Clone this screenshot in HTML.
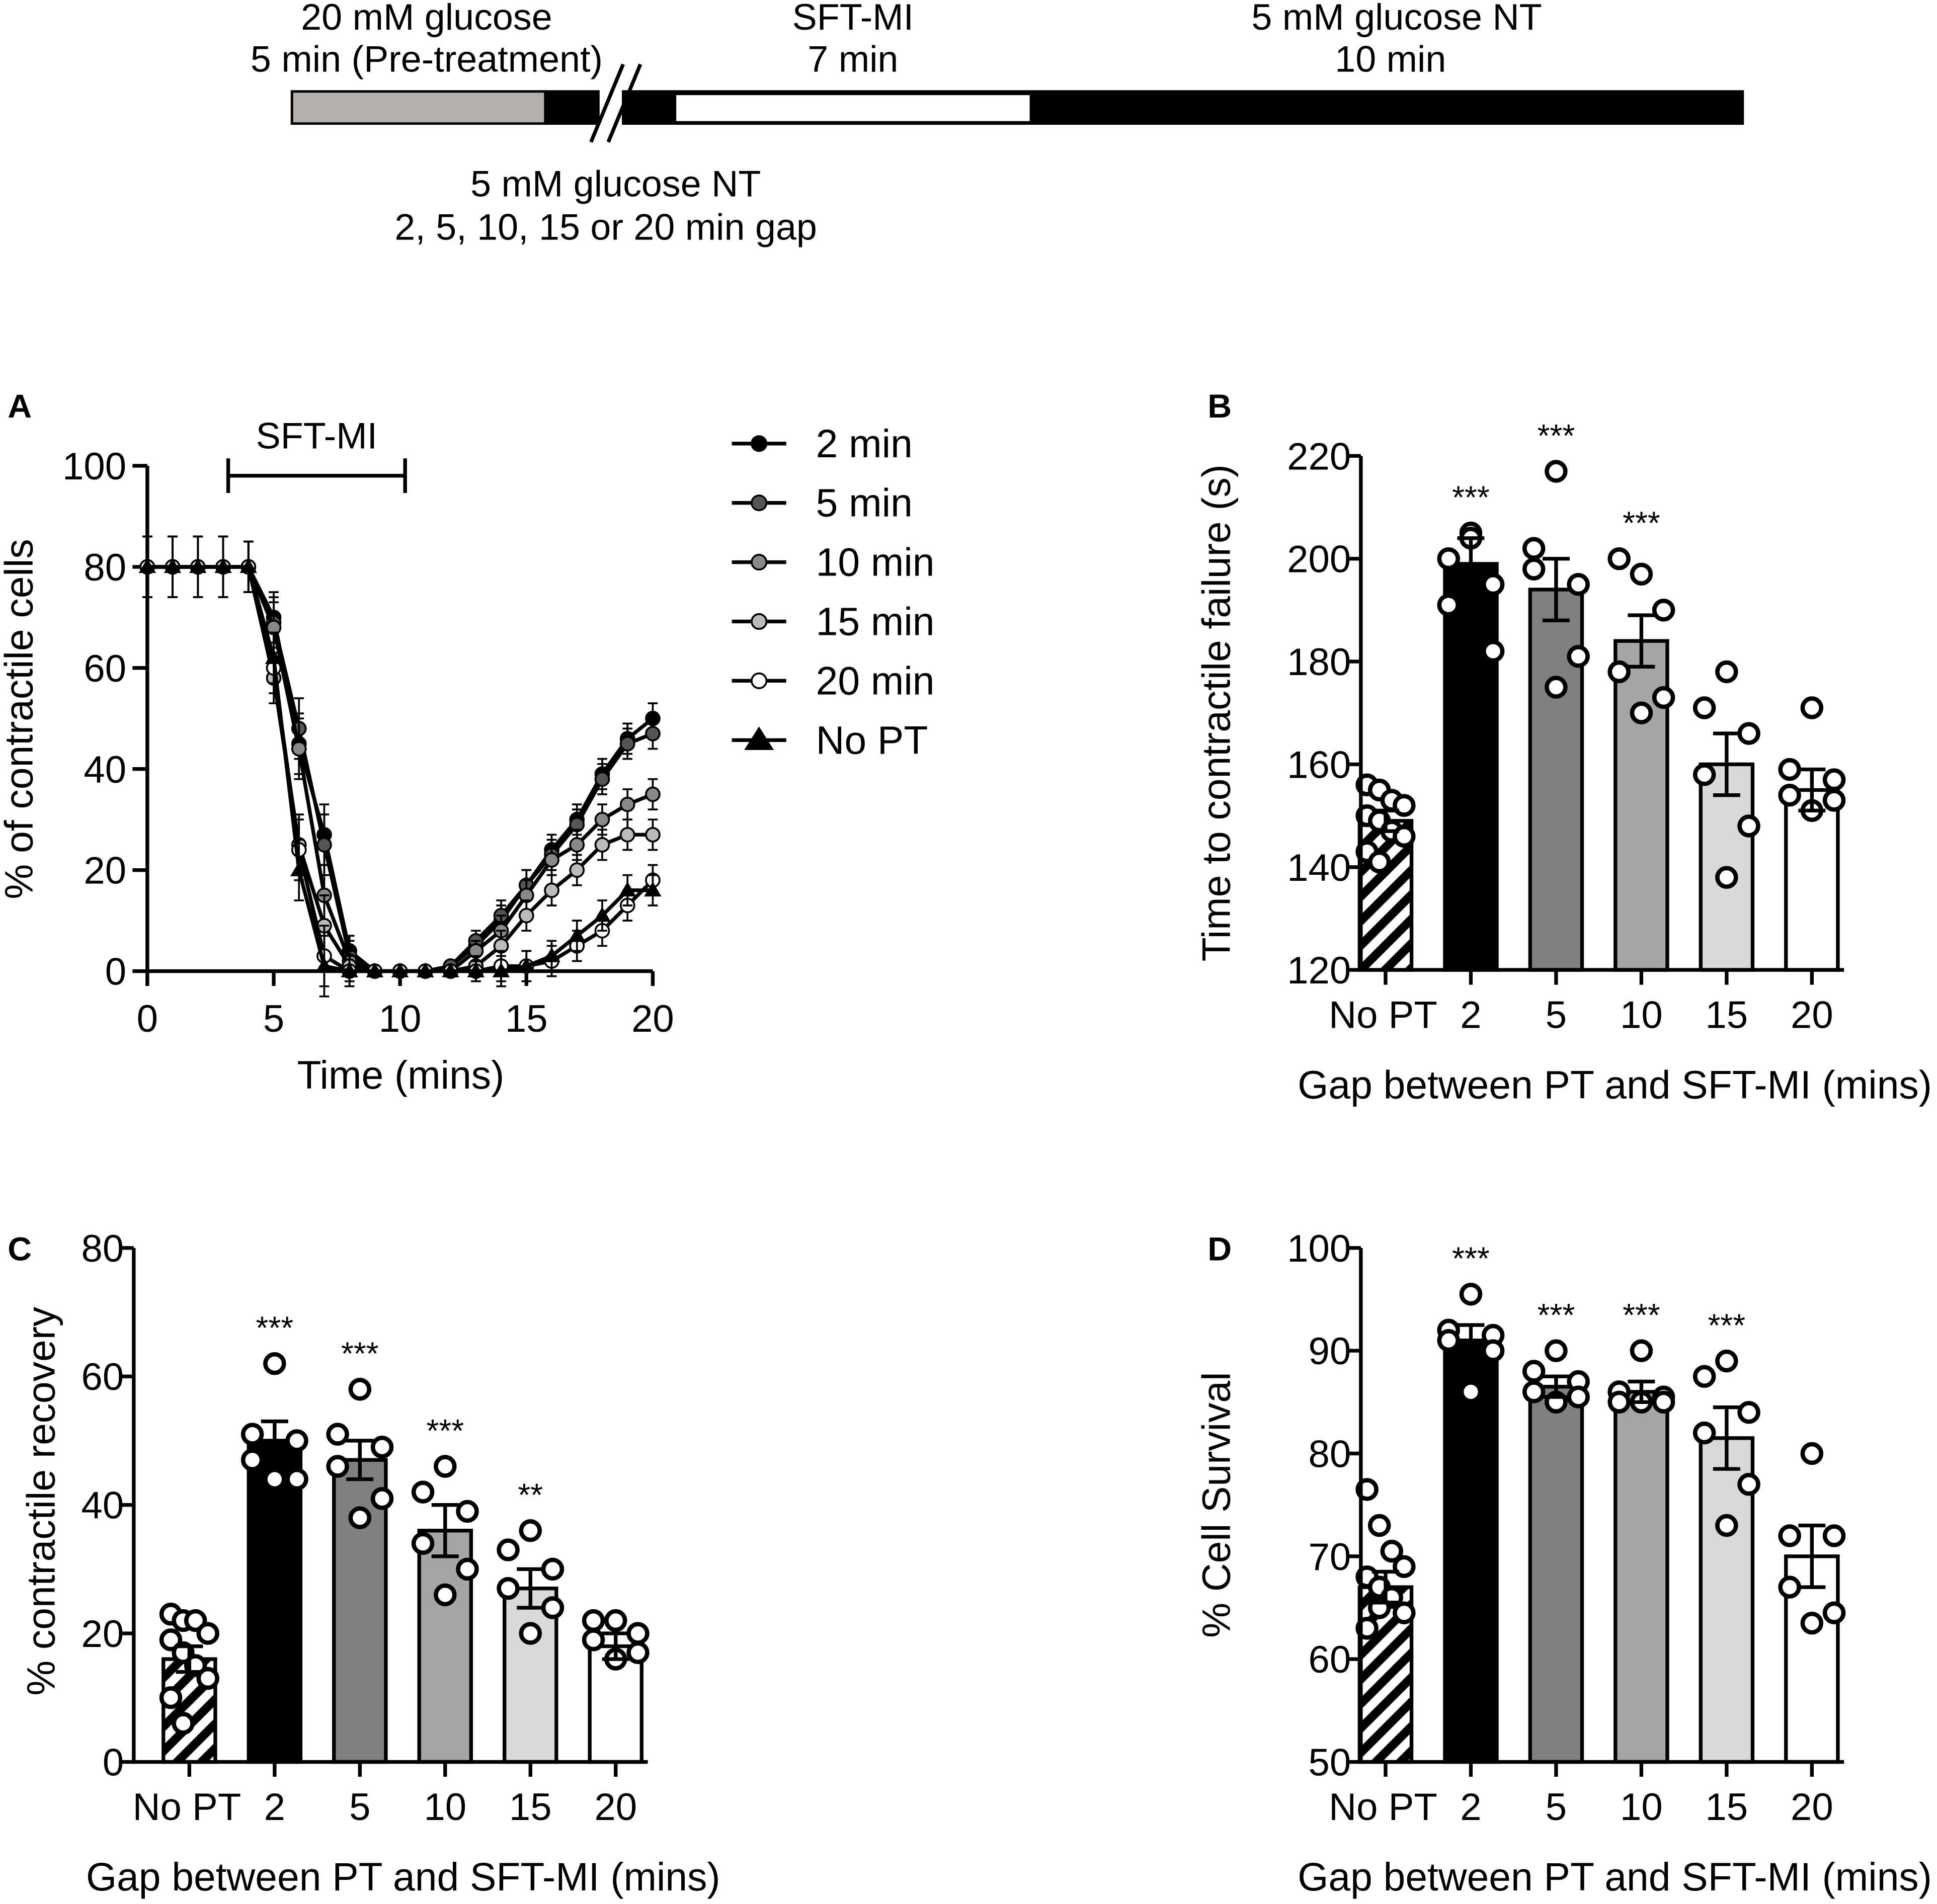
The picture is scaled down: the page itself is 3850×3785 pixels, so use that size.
<!DOCTYPE html>
<html><head><meta charset="utf-8"><style>
html,body{margin:0;padding:0;background:#fff}
svg{display:block}
text{font-family:"Liberation Sans",Arial,sans-serif;fill:#000}
</style></head><body>
<svg id="fig" width="3850" height="3785" viewBox="0 0 1567 1541" xmlns="http://www.w3.org/2000/svg">
<defs>
<pattern id="hatch" patternUnits="userSpaceOnUse" width="14" height="14" patternTransform="rotate(45)">
<rect width="14" height="14" fill="#fff"/><rect width="7" height="14" fill="#000"/>
</pattern>
</defs>
<g id="timeline">
<text x="345" y="24" font-size="30" text-anchor="middle">20 mM glucose</text>
<text x="345" y="58" font-size="30" text-anchor="middle">5 min (Pre-treatment)</text>
<text x="690" y="24" font-size="30" text-anchor="middle">SFT-MI</text>
<text x="690" y="58" font-size="30" text-anchor="middle">7 min</text>
<text x="1130" y="24" font-size="30" text-anchor="middle">5 mM glucose NT</text>
<text x="1125" y="58" font-size="30" text-anchor="middle">10 min</text>
<rect x="236" y="74" width="205" height="26" fill="#b3b0ad" stroke="#000" stroke-width="2"/>
<rect x="441" y="73" width="44" height="28" fill="#000"/>
<rect x="503" y="73" width="908" height="28" fill="#000"/>
<rect x="547" y="77" width="286" height="21" fill="#fff"/>
<line x1="478" y1="115" x2="504" y2="52" stroke="#000" stroke-width="3"/>
<line x1="492" y1="115" x2="518" y2="52" stroke="#000" stroke-width="3"/>
<text x="498" y="159" font-size="30" text-anchor="middle">5 mM glucose NT</text>
<text x="490" y="194" font-size="30" text-anchor="middle">2, 5, 10, 15 or 20 min gap</text>
</g>
<g id="pA"></g>
<g id="pB"></g>
<g id="pC"></g>
<g id="pD"></g>
</svg>
<script>
// Panel A data
const timesA = [0,1,2,3,4,5,6,7,8,9,10,11,12,13,14,15,16,17,18,19,20];
const s2 = [80,80,80,80,80,70,45,27,4,0,0,0,1,5,10,17,24,30,39,46,50];
const s5 = [80,80,80,80,80,69,48,25,3,0,0,0,1,6,11,17,23,29,38,45,47];
const s10 = [80,80,80,80,80,68,44,15,2,0,0,0,0,4,8,15,22,25,30,33,35];
const s15 = [80,80,80,80,80,58,25,9,1,0,0,0,0,1,5,11,16,20,25,27,27];
const s20 = [80,80,80,80,80,60,24,3,0,0,0,0,0,0,1,1,2,5,8,13,18];
const sNoPT = [80,80,80,80,80,62,20,1,0,0,0,0,0,0,0,1,3,7,11,16,16];
const errA = [6,6,6,6,5,5,6,6,3,1,1,1,1,2,3,3,3,3,3,3,3];
const seriesNames = ["2 min","5 min","10 min","15 min","20 min","No PT"];
const xTicksA = [0,5,10,15,20];
const yTicksA = [0,20,40,60,80,100];
// Bar panels
const groups = ["No PT","2","5","10","15","20"];
const meansB = [149,199,194,184,160,155];
const semB = [2,5,6,5,6,4];
const ptsB = [[156,155,153,152,150,149,147,146,143,141],[205,200,195,191,182,204],[217,202,195,198,181,175],[197,200,190,178,173,170],[178,171,166,158,148,138],[171,159,157,154,153,151]];
const starsB = ["","***","***","***","",""];
const ticksB = [120,140,160,180,200,220];
const meansC = [16,50,47,36,27,18];
const semC = [2,3,3,4,3,2];
const ptsC = [[23,22,22,20,19,17,15,13,10,6],[62,51,50,47,44,44],[58,51,49,46,41,38],[46,42,39,34,30,26],[36,33,30,27,24,20],[22,22,20,19,17,16]];
const starsC = ["","***","***","***","**",""];
const ticksC = [0,20,40,60,80];
const meansD = [67,91,86.5,86,81.5,70];
const semD = [1.5,1.5,1,1,3,3];
const ptsD = [[76.5,73,70.5,69,68,67,66,64.5,63,65],[95.5,92,91.5,91,90,86],[90,88,87,86,85.5,85],[90,86,85.5,85,85,85],[89,87.5,84,82,77,73],[80,72,72,67,64.5,63.5]];
const starsD = ["","***","***","***","***",""];
const ticksD = [50,60,70,80,90,100];
const fills = ["url(#hatch)","#000","#808080","#a5a5a5","#d9d9d9","#fff"];
const NS="http://www.w3.org/2000/svg";
function mk(p,tag,at){const e=document.createElementNS(NS,tag);for(const k in at)e.setAttribute(k,at[k]);p.appendChild(e);return e;}

// Panel A
(function(){
const g=document.getElementById('pA');
const x=v=>119+v*(528-119)/20, y=v=>786-v*(786-377)/100;
let t=mk(g,'text',{x:6,y:338,'font-size':27,'font-weight':'bold'});t.textContent='A';


t=mk(g,'text',{x:256,y:363,'font-size':30,'text-anchor':'middle'});t.textContent='SFT-MI';


let l=mk(g,'path',{d:`M${x(3.2)} 371 V399 M${x(3.2)} 385 H${x(10.2)} M${x(10.2)} 371 V399`,stroke:'#000','stroke-width':3,fill:'none'});


l=mk(g,'path',{d:`M119 ${y(100)} V786 H528`,stroke:'#000','stroke-width':3,fill:'none'});


yTicksA.forEach(v=>{mk(g,'line',{x1:107,x2:119,y1:y(v),y2:y(v),stroke:'#000','stroke-width':3});
const tt=mk(g,'text',{x:102,y:y(v)+11,'font-size':31,'text-anchor':'end'});tt.textContent=v;

});
xTicksA.forEach(v=>{mk(g,'line',{x1:x(v),x2:x(v),y1:786,y2:798,stroke:'#000','stroke-width':3});
const tt=mk(g,'text',{x:x(v),y:835,'font-size':31,'text-anchor':'middle'});tt.textContent=v;

});
t=mk(g,'text',{x:324,y:881,'font-size':32,'text-anchor':'middle'});t.textContent='Time (mins)';


t=mk(g,'text',{x:0,y:0,'font-size':32,'text-anchor':'middle',transform:'translate(26,582) rotate(-90)'});t.textContent='% of contractile cells';


const all=[s2,s5,s10,s15,s20,sNoPT];
const mf=['#000','#555','#888','#bbb','#fff','#000'];
all.forEach((s,si)=>{
 const sg=mk(g,'g',{});
 
 
 timesA.forEach((tm,i)=>{const e=errA[i];if(e>1)mk(sg,'path',{d:`M${x(tm)} ${y(s[i]-e)}V${y(s[i]+e)}M${x(tm)-4} ${y(s[i]-e)}h8M${x(tm)-4} ${y(s[i]+e)}h8`,stroke:'#000','stroke-width':1.5,fill:'none'});});
 mk(sg,'polyline',{points:timesA.map((tm,i)=>x(tm)+','+y(s[i])).join(' '),fill:'none',stroke:'#000','stroke-width':3});
 timesA.forEach((tm,i)=>{
  let m;
  if(si==5)m=mk(sg,'path',{d:`M${x(tm)} ${y(s[i])-7}l7 12h-14z`,fill:'#000'});
  else m=mk(sg,'circle',{cx:x(tm),cy:y(s[i]),r:5.5,fill:mf[si],stroke:'#000','stroke-width':1.5});
  
  
 });
 const ly=359+si*48;
 const lg=mk(g,'g',{});
 
 
 mk(lg,'line',{x1:592,x2:636,y1:ly,y2:ly,stroke:'#000','stroke-width':3});
 if(si==5)mk(lg,'path',{d:`M614 ${ly-11}l12 19h-24z`,fill:'#000'});
 else mk(lg,'circle',{cx:614,cy:ly,r:6,fill:mf[si],stroke:'#000','stroke-width':1.5});
 const lt=mk(lg,'text',{x:660,y:ly+11,'font-size':32});lt.textContent=seriesNames[si];
});
})();

function barPanel(id,letter,lx,ly,ax,off,y0,y1,vmin,vmax,ticks,means,sem,pts,stars,ytitle,ytx,yty){
const g=document.getElementById(id);
const y=v=>y0-(v-vmin)*(y0-y1)/(vmax-vmin);
const cx=i=>ax+off+i*69;
let t=mk(g,'text',{x:lx,y:ly,'font-size':27,'font-weight':'bold'});t.textContent=letter;


means.forEach((m,i)=>{
 const b=mk(g,'rect',{x:cx(i)-21,y:y(m),width:42,height:y0-y(m),fill:fills[i],stroke:'#000','stroke-width':3});
 
 
});
means.forEach((m,i)=>{
 const n=pts[i].length;
 pts[i].forEach((v,j)=>{
  const o=n>6?((j%4)-1.5)*10:[0,-18,18,-18,18,0][j%6];
  const c=mk(g,'circle',{cx:cx(i)+o,cy:y(v),r:7.5,fill:'#fff',stroke:'#000','stroke-width':3.5});
  
  
 });
 const e=mk(g,'path',{d:`M${cx(i)} ${y(m-sem[i])}V${y(m+sem[i])}M${cx(i)-11} ${y(m-sem[i])}h22M${cx(i)-11} ${y(m+sem[i])}h22`,stroke:'#000','stroke-width':3,fill:'none'});
 
 
 if(stars[i]){const s=mk(g,'text',{x:cx(i),y:y(Math.max(...pts[i]))-20,'font-size':26,'text-anchor':'middle'});s.textContent=stars[i];
 
 }
 mk(g,'line',{x1:cx(i),x2:cx(i),y1:y0,y2:y0+12,stroke:'#000','stroke-width':3});
 const tl=mk(g,'text',{x:i==0?cx(i)-2:cx(i),y:y0+47,'font-size':31,'text-anchor':'middle'});tl.textContent=groups[i];
 
 
});
const a=mk(g,'path',{d:`M${ax} ${y1} V${y0} H${cx(5)+26}`,stroke:'#000','stroke-width':3,fill:'none'});


ticks.forEach(v=>{mk(g,'line',{x1:ax-12,x2:ax,y1:y(v),y2:y(v),stroke:'#000','stroke-width':3});
const tt=mk(g,'text',{x:ax-8,y:y(v)+11,'font-size':31,'text-anchor':'end'});tt.textContent=v;

});
t=mk(g,'text',{x:(ax+cx(5)+26)/2+10,y:y0+104,'font-size':32,'text-anchor':'middle'});t.textContent='Gap between PT and SFT-MI (mins)';


t=mk(g,'text',{x:0,y:0,'font-size':32,'text-anchor':'middle',transform:`translate(${ytx},${yty}) rotate(-90)`});t.textContent=ytitle;


}
barPanel('pB','B',977,338,1101,20,785,369,120,220,ticksB,meansB,semB,ptsB,starsB,'Time to contractile failure (s)',995,577);
barPanel('pC','C',6,1020,108,45,1426,1010,0,80,ticksC,meansC,semC,ptsC,starsC,'% contractile recovery',44,1215);
barPanel('pD','D',977,1020,1101,20,1426,1010,50,100,ticksD,meansD,semD,ptsD,starsD,'% Cell Survival',995,1218);
</script>
</body></html>
